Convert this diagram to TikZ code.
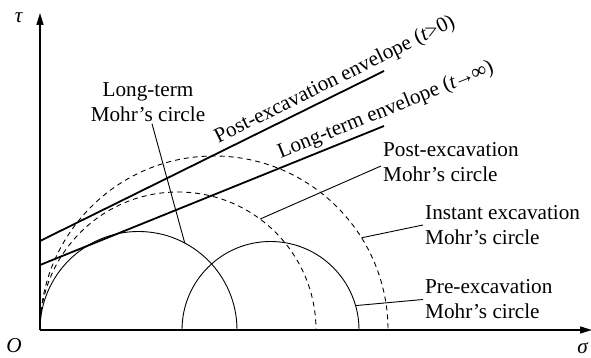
\documentclass[tikz,border=0pt]{standalone}
\usepackage{fontspec}
\setmainfont{Liberation Serif}
\usetikzlibrary{arrows.meta,calc}

\begin{document}
\begin{tikzpicture}[x=1pt,y=1pt,
  font=\fontsize{21.2}{25}\selectfont,
  mohr/.style={line width=0.9pt},
  mohrdash/.style={line width=0.9pt,dash pattern=on 5pt off 4pt},
  env/.style={line width=1.8pt},
  axis/.style={line width=1.2pt,-{Triangle[length=12pt,width=7pt]}},
  lbl/.style={inner sep=2pt,align=left}]
  \useasboundingbox (-40,-28) rectangle (551,330);

  % axes
  \coordinate (O) at (0,0);
  \coordinate (xend) at (552,0);
  \coordinate (yend) at (0,317);
  \draw[axis] (O) -- (xend);
  \draw[axis] (O) -- (yend);
  \node at (-21,312) {\textit{τ}};
  \node at (543,-18) {\textit{σ}};
  \node at (-26,-16) {\textit{O}};

  % Mohr's circles
  \draw[mohr] (0,0) arc[start angle=180,end angle=0,radius=98.5];
  \draw[mohr] (142,0) arc[start angle=180,end angle=0,radius=88.5];
  \draw[mohrdash] (0,0) arc[start angle=180,end angle=0,radius=138];
  \draw[mohrdash] (0,0) arc[start angle=180,end angle=0,radius=174];
  \path (98.5,0) ++(62:98.5) coordinate (plt);
  \path (230.5,0) ++(16:88.5) coordinate (ppre);
  \path (138,0) ++(53.5:138) coordinate (ppost);
  \path (174,0) ++(32:174) coordinate (pinst);

  % envelopes
  \coordinate (pa) at (0,89);
  \coordinate (pb) at (344,259);
  \coordinate (la) at (0,65);
  \coordinate (lb) at (344,204);
  \draw[env] (pa) -- (pb)
    node[pos=0.875,above,sloped,inner sep=3pt] {Post-excavation envelope (\textit{t}>0)};
  \draw[env] (la) -- (lb)
    node[pos=1.02,above,sloped,inner sep=3pt] {Long-term envelope (\textit{t}\kern-2pt→\kern-2pt∞)};

  % labels
  \node[lbl,align=center] (ltlab) at (108,228) {Long-term\\Mohr’s circle};
  \node[lbl,anchor=west] (pelab) at (341,168) {Post-excavation\\Mohr’s circle};
  \node[lbl,anchor=west] (inlab) at (383,105) {Instant excavation\\Mohr’s circle};
  \node[lbl,anchor=west] (prlab) at (383,30.5) {Pre-excavation\\Mohr’s circle};
  \draw[mohr] ([xshift=4pt]ltlab.south) -- (plt);
  \draw[mohr] ([yshift=-4pt]pelab.west) -- (ppost);
  \draw[mohr] (inlab.west) -- (pinst);
  \draw[mohr] (prlab.west) -- (ppre);
\end{tikzpicture}
\end{document}
